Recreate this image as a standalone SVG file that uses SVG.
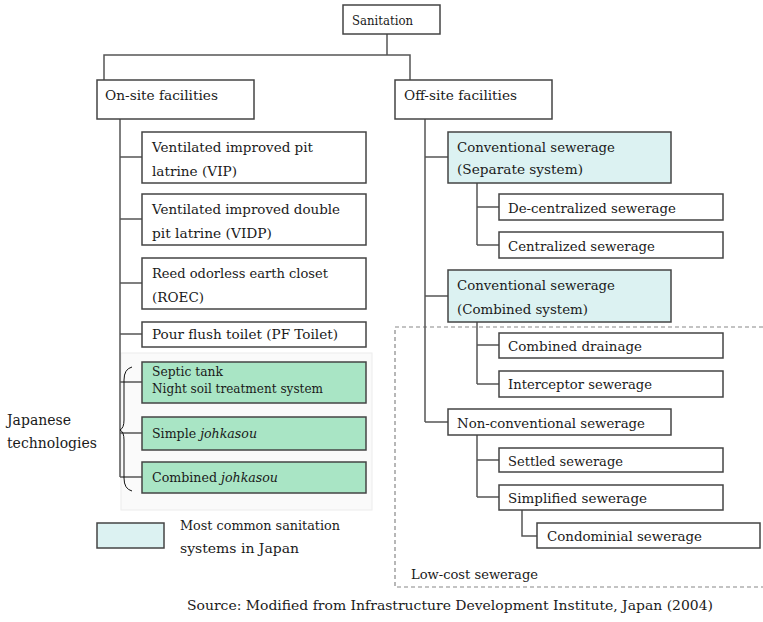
<svg xmlns="http://www.w3.org/2000/svg" width="763" height="622" viewBox="0 0 763 622">
<style>
.b{fill:#fff;stroke:#444;stroke-width:1.5}
.g{fill:#a9e5c5;stroke:#444;stroke-width:1.5}
.c{fill:#dcf2f2;stroke:#444;stroke-width:1.5}
text{font-family:'DejaVu Serif','Liberation Serif',serif;fill:#1a1a1a}
.t{font-size:13px}
.s{font-size:15px}
.ln{fill:none;stroke:#555;stroke-width:1.5}
</style>
<rect x="0" y="0" width="763" height="622" fill="#fff"/>
<rect x="121" y="353" width="251" height="157" fill="#fafafa" stroke="#ececec"/>
<path d="M763,327 H395 V587 H763" fill="none" stroke="#888" stroke-width="1.2" stroke-dasharray="4 3"/>
<g id="connectors" class="ln">
<path d="M387,34 V55 M104,80 V55 H410 V80"/>
<path d="M120,119 V477 M120,157 H142 M120,219 H142 M120,283 H142 M120,334 H142 M120,382 H142 M120,433 H142 M120,477 H142"/>
<path d="M425,119 V422 M425,157 H448 M425,296 H448 M425,422 H448"/>
<path d="M477,183 V245 M477,207 H499 M477,245 H499"/>
<path d="M477,322 V384 M477,345 H499 M477,384 H499"/>
<path d="M477,435 V497 M477,460 H499 M477,497 H499"/>
<path d="M522,510 V536 H537"/>
</g>
<path d="M132,367 Q124,369 124,380 V420 Q124,428 120,430 Q124,432 124,440 V478 Q124,489 132,491" fill="none" stroke="#111" stroke-width="1"/>
<g id="sanitation"><rect class="b" x="343" y="5" width="97" height="29"/><text class="t" x="352" y="25" font-size="12" textLength="61" lengthAdjust="spacingAndGlyphs">Sanitation</text></g>
<g id="onsite"><rect class="b" x="97" y="80" width="157" height="39"/><text class="t" x="105" y="100" textLength="113" lengthAdjust="spacingAndGlyphs">On-site facilities</text></g>
<g id="offsite"><rect class="b" x="395" y="80" width="157" height="39"/><text class="t" x="404" y="100" textLength="113" lengthAdjust="spacingAndGlyphs">Off-site facilities</text></g>
<g id="vip"><rect class="b" x="142" y="132" width="224" height="51"/><text class="t" x="152" y="152" textLength="161" lengthAdjust="spacingAndGlyphs">Ventilated improved pit</text><text class="t" x="152" y="176" textLength="85" lengthAdjust="spacingAndGlyphs">latrine (VIP)</text></g>
<g id="vidp"><rect class="b" x="142" y="194" width="224" height="51"/><text class="t" x="152" y="214" textLength="188" lengthAdjust="spacingAndGlyphs">Ventilated improved double</text><text class="t" x="152" y="238" textLength="120" lengthAdjust="spacingAndGlyphs">pit latrine (VIDP)</text></g>
<g id="roec"><rect class="b" x="142" y="258" width="224" height="51"/><text class="t" x="152" y="278" textLength="176" lengthAdjust="spacingAndGlyphs">Reed odorless earth closet</text><text class="t" x="152" y="302" textLength="52" lengthAdjust="spacingAndGlyphs">(ROEC)</text></g>
<g id="pf"><rect class="b" x="142" y="322" width="224" height="25"/><text class="t" x="152" y="339" textLength="186" lengthAdjust="spacingAndGlyphs">Pour flush toilet (PF Toilet)</text></g>
<g id="septic"><rect class="g" x="142" y="362" width="224" height="41"/><text class="t" x="152" y="376" textLength="71" lengthAdjust="spacingAndGlyphs">Septic tank</text><text class="t" x="152" y="393" textLength="171" lengthAdjust="spacingAndGlyphs">Night soil treatment system</text></g>
<g id="simple"><rect class="g" x="142" y="417" width="224" height="33"/><text class="t" x="152" y="438" textLength="105" lengthAdjust="spacingAndGlyphs">Simple <tspan font-style="italic">johkasou</tspan></text></g>
<g id="combinedj"><rect class="g" x="142" y="462" width="224" height="31"/><text class="t" x="152" y="482" textLength="126" lengthAdjust="spacingAndGlyphs">Combined <tspan font-style="italic">johkasou</tspan></text></g>
<g id="jptech"><text class="s" x="7" y="425" textLength="64" lengthAdjust="spacingAndGlyphs">Japanese</text><text class="s" x="7" y="448" textLength="90" lengthAdjust="spacingAndGlyphs">technologies</text></g>
<g id="convsep"><rect class="c" x="448" y="132" width="223" height="51"/><text class="t" x="457" y="152" textLength="158" lengthAdjust="spacingAndGlyphs">Conventional sewerage</text><text class="t" x="457" y="174" textLength="126" lengthAdjust="spacingAndGlyphs">(Separate system)</text></g>
<g id="decent"><rect class="b" x="499" y="194" width="224" height="26"/><text class="t" x="508" y="213" textLength="168" lengthAdjust="spacingAndGlyphs">De-centralized sewerage</text></g>
<g id="cent"><rect class="b" x="499" y="232" width="224" height="26"/><text class="t" x="508" y="251" textLength="147" lengthAdjust="spacingAndGlyphs">Centralized sewerage</text></g>
<g id="convcomb"><rect class="c" x="448" y="270" width="223" height="52"/><text class="t" x="457" y="290" textLength="158" lengthAdjust="spacingAndGlyphs">Conventional sewerage</text><text class="t" x="457" y="314" textLength="131" lengthAdjust="spacingAndGlyphs">(Combined system)</text></g>
<g id="combdrain"><rect class="b" x="499" y="333" width="224" height="25"/><text class="t" x="508" y="351" textLength="134" lengthAdjust="spacingAndGlyphs">Combined drainage</text></g>
<g id="intercept"><rect class="b" x="499" y="371" width="224" height="26"/><text class="t" x="508" y="389" textLength="144" lengthAdjust="spacingAndGlyphs">Interceptor sewerage</text></g>
<g id="nonconv"><rect class="b" x="448" y="409" width="223" height="26"/><text class="t" x="457" y="428" textLength="188" lengthAdjust="spacingAndGlyphs">Non-conventional sewerage</text></g>
<g id="settled"><rect class="b" x="499" y="448" width="224" height="24"/><text class="t" x="508" y="466" textLength="115" lengthAdjust="spacingAndGlyphs">Settled sewerage</text></g>
<g id="simplified"><rect class="b" x="499" y="485" width="224" height="25"/><text class="t" x="508" y="503" textLength="139" lengthAdjust="spacingAndGlyphs">Simplified sewerage</text></g>
<g id="condo"><rect class="b" x="537" y="523" width="223" height="25"/><text class="t" x="547" y="541" textLength="155" lengthAdjust="spacingAndGlyphs">Condominial sewerage</text></g>
<g id="lowcost"><text class="t" x="411" y="579" textLength="127" lengthAdjust="spacingAndGlyphs">Low-cost sewerage</text></g>
<g id="legend"><rect class="c" x="97" y="523" width="67" height="25"/><text class="t" x="180" y="530" textLength="160" lengthAdjust="spacingAndGlyphs">Most common sanitation</text><text class="t" x="180" y="553" textLength="119" lengthAdjust="spacingAndGlyphs">systems in Japan</text></g>
<g id="source"><text class="t" x="187" y="610" textLength="526" lengthAdjust="spacingAndGlyphs">Source: Modified from Infrastructure Development Institute, Japan (2004)</text></g>
</svg>
